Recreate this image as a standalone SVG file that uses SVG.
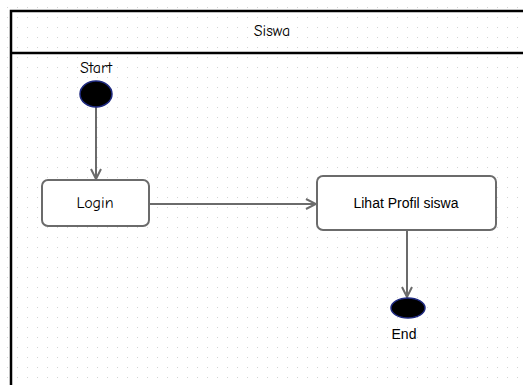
<svg xmlns="http://www.w3.org/2000/svg" width="523" height="385" viewBox="0 0 523 385">
  <style>
    .lane { fill: none; stroke: #000; stroke-width: 2.5; }
    .act { fill: #fff; stroke: #6b6b6b; stroke-width: 2; }
    .pt { fill: #000; stroke: #1f2a80; stroke-width: 1.5; }
    .edge { fill: none; stroke: #6b6b6b; stroke-width: 2; marker-end: url(#arrow); }
    .hand { font-family: "Comic Neue", "DejaVu Sans", sans-serif; font-size: 16px; fill: #000; text-anchor: middle; }
    .plain { font-family: "Liberation Sans", Arial, sans-serif; font-size: 14px; fill: #000; text-anchor: middle; }
  </style>
  <defs>
    <pattern id="grid" x="7" y="7" width="10" height="10" patternUnits="userSpaceOnUse">
      <rect x="0" y="0" width="1" height="1" fill="#d4d4d4"/>
    </pattern>
    <marker id="arrow" viewBox="0 0 12 12" refX="11" refY="6" markerWidth="12" markerHeight="12" markerUnits="userSpaceOnUse" orient="auto">
      <path d="M1,1 L11,6 L1,11" fill="none" stroke="#6b6b6b" stroke-width="2"/>
    </marker>
  </defs>

  <rect x="0" y="0" width="523" height="385" fill="#fff"/>
  <rect x="0" y="0" width="523" height="385" fill="url(#grid)"/>

  <!-- swimlane -->
  <g id="lane-siswa">
    <rect class="lane" x="11" y="11" width="520" height="390"/>
    <line class="lane" x1="11" y1="53" x2="531" y2="53"/>
    <text class="hand" x="272" y="36">Siswa</text>
  </g>

  <!-- connectors -->
  <g id="connectors">
    <line class="edge" x1="96" y1="107" x2="96" y2="179"/>
    <line class="edge" x1="150" y1="204" x2="316" y2="204"/>
    <line class="edge" x1="407" y1="231" x2="407" y2="297"/>
  </g>

  <g id="start">
    <ellipse class="pt" cx="96" cy="94" rx="16" ry="13"/>
    <text class="hand" x="96" y="73">Start</text>
  </g>

  <g id="login">
    <rect class="act" x="42" y="180" width="107" height="46" rx="6"/>
    <text class="hand" x="95" y="208">Login</text>
  </g>

  <g id="lihat-profil">
    <rect class="act" x="317" y="176" width="179" height="54" rx="6"/>
    <text class="plain" x="406" y="208">Lihat Profil siswa</text>
  </g>

  <g id="end">
    <ellipse class="pt" cx="408" cy="308" rx="17" ry="10"/>
    <text class="plain" x="404" y="339">End</text>
  </g>
</svg>
